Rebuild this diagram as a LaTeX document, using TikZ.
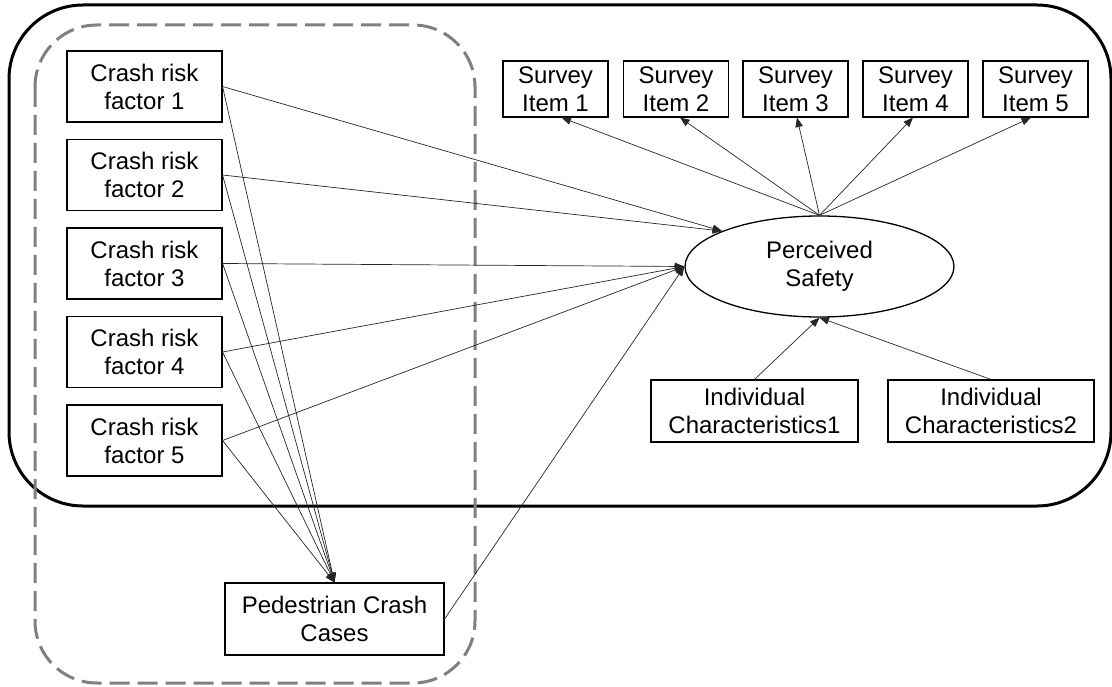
\documentclass[tikz,border=0pt]{standalone}
\usepackage{fontspec}
\setmainfont{Liberation Sans}
\usetikzlibrary{shapes.geometric,arrows.meta}
\definecolor{frameGray}{RGB}{128,128,128}
\tikzset{
  box/.style={draw=black, line width=1.1pt, fill=white, align=center,
    inner sep=0pt, font=\fontsize{24}{28}\selectfont},
  factor/.style={box, minimum width=155pt, minimum height=71pt},
  item/.style={box, minimum width=105pt, minimum height=56pt},
  indiv/.style={box, minimum width=207pt, minimum height=62pt},
  latent/.style={draw=black, line width=1.3pt, fill=white, ellipse, align=center,
    inner sep=0pt, minimum width=269pt, minimum height=101pt,
    font=\fontsize{24}{28}\selectfont},
  path/.style={draw=black!85, line width=0.7pt, -{Triangle[length=9.5pt,width=7.5pt]}},
}
\begin{document}
\begin{tikzpicture}[x=1pt,y=-1pt]
\useasboundingbox (0,0) rectangle (1112,687);

% outer model frame and dashed crash-model frame
\draw[line width=3pt, rounded corners=74pt] (9,5) rectangle (1111,506);
\draw[frameGray, line width=3pt, dash pattern=on 20pt off 8pt, rounded corners=62pt]
  (35,25) rectangle (475,683);

% crash risk factors
\foreach \i in {1,...,5}
  \node[factor] (f\i) at (144.5,{86.5+88.5*(\i-1)}) {Crash risk\\factor \i};

% survey items
\node[item] (s1) at (555.5,89) {Survey\\Item 1};
\node[item] (s2) at (676,89) {Survey\\Item 2};
\node[item] (s3) at (795.5,89) {Survey\\Item 3};
\node[item] (s4) at (915.5,89) {Survey\\Item 4};
\node[item] (s5) at (1035.5,89) {Survey\\Item 5};

% latent construct
\node[latent] (ps) at (819.5,266.5) {Perceived\\Safety};

% individual characteristics
\node[indiv] (ic1) at (754.5,411) {Individual\\Characteristics1};
\node[indiv, minimum width=206pt] (ic2) at (991,411) {Individual\\Characteristics2};

% pedestrian crash outcome
\node[box, minimum width=219pt, minimum height=72pt] (ped) at (334.5,619)
  {Pedestrian Crash\\Cases};

% measurement paths
\draw[path] (ps.north) -- ([xshift=6pt]s1.south);
\draw[path] (ps.north) -- ([xshift=4pt]s2.south);
\draw[path] (ps.north) -- ([xshift=1.5pt]s3.south);
\draw[path] (ps.north) -- ([xshift=-2.5pt]s4.south);
\draw[path] (ps.north) -- ([xshift=-4.5pt]s5.south);

% structural paths
\draw[path] (f1.east) -- (ps.160);
\draw[path] (f2.east) -- (ps.160);
\draw[path] (f3.east) -- (ps.west);
\draw[path] (f4.east) -- (ps.west);
\draw[path] (f5.east) -- (ps.west);
\draw[path] (ped.east) -- (ps.west);
\foreach \i in {1,...,5}
  \draw[path] (f\i.east) -- (ped.north);
\draw[path] (ic1.north) -- (ps.south);
\draw[path] (ic2.north) -- (ps.south);
\end{tikzpicture}
\end{document}
